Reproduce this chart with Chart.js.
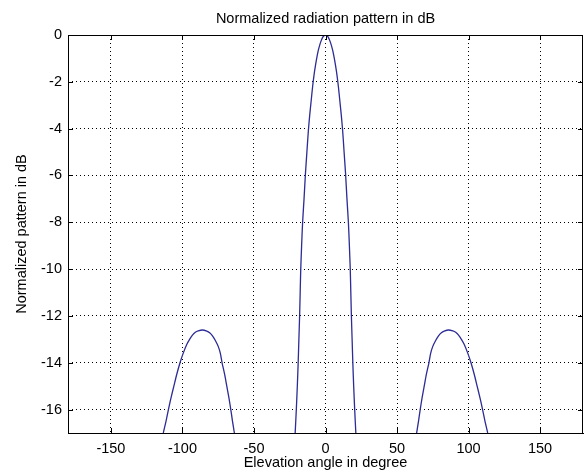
<!DOCTYPE html>
<html>
<head>
<meta charset="utf-8">
<script src="https://cdn.jsdelivr.net/npm/chart.js@4"></script>
<style>
  html, body { margin: 0; padding: 0; background: #fff; }
  #wrap { width: 584px; height: 474px; }
</style>
</head>
<body>
<div id="wrap"><canvas id="patternChart"></canvas></div>
<script>
// angle (deg) and normalized pattern (dB); null = below the axis
var angleDeg = [
  -113.4, -111.5, -109.8, -108, -106, -104, -101.7, -99.5, -97, -95, -93, -91, -89, -86, -83, -81, -79, -77, -75, -73.5, -72.3, -70.5, -69, -67.5, -66.2, -65, -63.7,
  -40,
  -21.2, -20.4, -19.7, -19.1, -18.6, -18.1, -17.7, -17.3, -16.7, -16, -15, -14, -13, -12, -11, -10, -9, -8, -7, -6, -5, -4, -3, -2, -1, 0,
  1, 2, 3, 4, 5, 6, 7, 8, 9, 10, 11, 12, 13, 14, 15, 16, 16.7, 17.3, 17.7, 18.1, 18.6, 19.1, 19.7, 20.4, 21.2,
  40,
  63.7, 65, 66.2, 67.5, 69, 70.5, 72.3, 73.5, 75, 77, 79, 81, 83, 86, 89, 91, 93, 95, 97, 99.5, 101.7, 104, 106, 108, 109.8, 111.5, 113.4
];
var patternDb = [
  -17, -16.5, -16, -15.5, -15, -14.5, -14, -13.6, -13.22, -13.0, -12.82, -12.7, -12.64, -12.6, -12.65, -12.72, -12.85, -13.05, -13.3, -13.6, -14, -14.5, -15, -15.5, -16, -16.5, -17,
  null,
  -17, -16, -15, -14, -13, -12, -11, -10, -9, -8, -7, -5.9, -5, -4.1, -3.4, -2.8, -2.2, -1.7, -1.3, -0.95, -0.65, -0.42, -0.24, -0.1, -0.03, 0,
  -0.03, -0.1, -0.24, -0.42, -0.65, -0.95, -1.3, -1.7, -2.2, -2.8, -3.4, -4.1, -5, -5.9, -7, -8, -9, -10, -11, -12, -13, -14, -15, -16, -17,
  null,
  -17, -16.5, -16, -15.5, -15, -14.5, -14, -13.6, -13.3, -13.05, -12.85, -12.72, -12.65, -12.6, -12.64, -12.7, -12.82, -13.0, -13.22, -13.6, -14, -14.5, -15, -15.5, -16, -16.5, -17
];
var xTicks = [-150, -100, -50, 0, 50, 100, 150];
var yTicks = [0, -2, -4, -6, -8, -10, -12, -14, -16];
var chartTitle = 'Normalized radiation pattern in dB';

var points = [];
for (var i = 0; i < angleDeg.length; i++) {
  points.push({ x: angleDeg[i], y: patternDb[i] });
}

var FONT = 'Liberation Sans, Arial, sans-serif';
var FSIZE = 14.5;
Chart.defaults.font.family = FONT;
Chart.defaults.color = '#000';

// box round the plot, inward ticks on all four sides, title centred over the axes
var boxPlugin = {
  id: 'box',
  afterDraw: function(chart) {
    var ctx = chart.ctx, a = chart.chartArea;
    var xs = chart.scales.x, ys = chart.scales.y;
    ctx.save();
    ctx.strokeStyle = '#000';
    ctx.lineWidth = 1;
    ctx.beginPath();
    ctx.rect(Math.round(a.left) + 0.5, Math.round(a.top) + 0.5, Math.round(a.right - a.left) - 1, Math.round(a.bottom - a.top));
    for (var i = 0; i < xTicks.length; i++) {
      var px = Math.round(xs.getPixelForValue(xTicks[i])) + 0.5;
      ctx.moveTo(px, a.bottom); ctx.lineTo(px, a.bottom - 5);
      ctx.moveTo(px, a.top); ctx.lineTo(px, a.top + 5);
    }
    for (var j = 0; j < yTicks.length; j++) {
      var py = Math.round(ys.getPixelForValue(yTicks[j])) + 0.5;
      ctx.moveTo(a.left, py); ctx.lineTo(a.left + 5, py);
      ctx.moveTo(a.right, py); ctx.lineTo(a.right - 5, py);
    }
    ctx.stroke();

    ctx.fillStyle = '#000';
    ctx.font = FSIZE + 'px ' + FONT;
    ctx.textAlign = 'center';
    ctx.textBaseline = 'middle';
    ctx.fillText(chartTitle, (a.left + a.right) / 2, 19);
    ctx.restore();
  }
};

new Chart(document.getElementById('patternChart'), {
  type: 'line',
  data: {
    datasets: [{
      data: points,
      borderColor: '#2c2c96',
      borderWidth: 1.3,
      pointRadius: 0,
      tension: 0.25,
      spanGaps: false,
      fill: false
    }]
  },
  options: {
    responsive: true,
    maintainAspectRatio: false,
    animation: false,
    layout: { padding: { left: 0, right: 1, top: 35, bottom: 0 } },
    plugins: {
      legend: { display: false },
      tooltip: { enabled: false },
      title: { display: false }
    },
    scales: {
      x: {
        type: 'linear',
        min: -180,
        max: 180,
        afterBuildTicks: function(scale) {
          scale.ticks = xTicks.map(function(v) { return { value: v }; });
        },
        afterFit: function(scale) { scale.height = 41; },
        ticks: { font: { size: FSIZE }, color: '#000', padding: 7, maxRotation: 0 },
        grid: { color: '#000', lineWidth: 1, drawTicks: false },
        border: { display: true, color: '#000', width: 1, dash: [1, 3] },
        title: {
          display: true,
          text: 'Elevation angle in degree',
          font: { size: FSIZE },
          color: '#000',
          padding: { top: 0, bottom: 2 }
        }
      },
      y: {
        type: 'linear',
        min: -17,
        max: 0,
        afterBuildTicks: function(scale) {
          scale.ticks = yTicks.map(function(v) { return { value: v }; });
        },
        afterFit: function(scale) { scale.width = 68; },
        ticks: { font: { size: FSIZE }, color: '#000', padding: 6 },
        grid: { color: '#000', lineWidth: 1, drawTicks: false },
        border: { display: false, dash: [1, 3] },
        title: {
          display: true,
          text: 'Normalized pattern in dB',
          font: { size: FSIZE },
          color: '#000',
          padding: { top: 13, bottom: 0 }
        }
      }
    }
  },
  plugins: [boxPlugin]
});
</script>
</body>
</html>
